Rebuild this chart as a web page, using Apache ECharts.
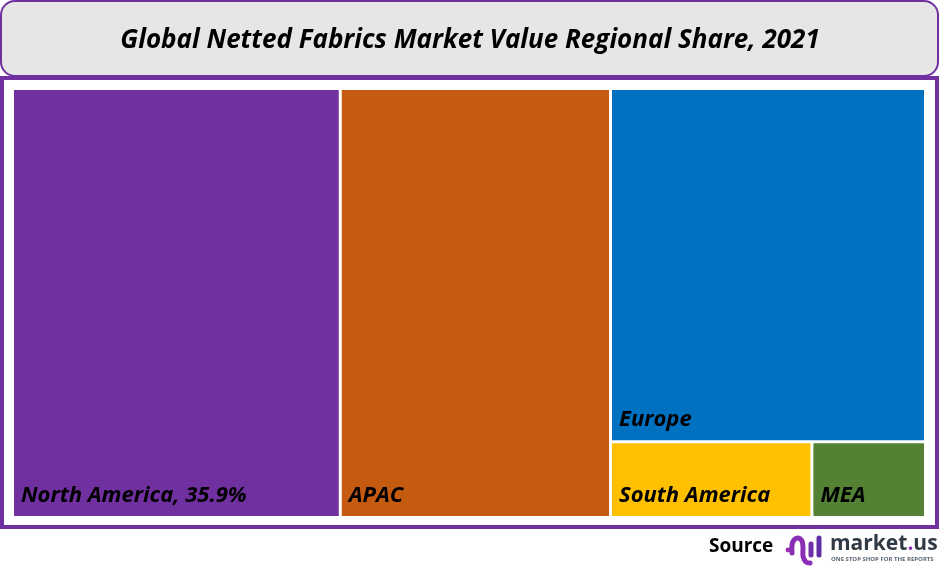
<!DOCTYPE html>
<html>
<head>
<meta charset="utf-8">
<style>
  html, body { margin: 0; padding: 0; background: #fff; }
  #charts_box { width: 940px; height: 566px; }
</style>
<script src="https://cdn.jsdelivr.net/npm/echarts@6/dist/echarts.min.js"></script>
</head>
<body>
<div id="charts_box"></div>
<script>
var regions = ['North America', 'APAC', 'Europe', 'South America', 'MEA'];
var shares = [35.9, 29.6, 28.4, 3.9, 2.2];
var colors = ['#7030a0', '#c55a11', '#0070c0', '#ffc000', '#548235'];
var titleText = 'Global Netted Fabrics Market Value Regional Share, 2021';

window.onload = function () {
    var myChart = echarts.init(document.getElementById('charts_box'));

    var purple = '#7030a0';
    var labelFont = '"Open Sans"';

    // only North America shows its value in the picture
    var nodes = regions.map(function (name, i) {
        return {
            name: name,
            value: shares[i],
            itemStyle: { color: colors[i] },
            label: { formatter: i === 0 ? '{b}, {c}%' : '{b}' }
        };
    });

    var option = {
        animation: false,
        graphic: [
            // title box
            { type: 'rect', z: 1, shape: { x: 1, y: 1, width: 937, height: 75, r: 14 },
              style: { fill: '#e6e6e6', stroke: purple, lineWidth: 2 } },
            { type: 'text', z: 2, x: 470, y: 41,
              style: { text: titleText, fill: '#000', align: 'center', verticalAlign: 'middle',
                       font: 'italic bold 26px ' + labelFont } },
            // frame round the treemap
            { type: 'rect', z: 1, shape: { x: 2, y: 78, width: 935, height: 449 },
              style: { fill: '#fff', stroke: purple, lineWidth: 4 } },
            // source and logo
            { type: 'text', z: 2, x: 709, y: 547,
              style: { text: 'Source', fill: '#000', verticalAlign: 'middle',
                       font: 'bold 19px ' + labelFont } },
            { type: 'circle', z: 2, shape: { cx: 788, cy: 550, r: 2.4 }, style: { fill: '#a02fb0' } },
            { type: 'polyline', z: 2,
              shape: { points: [[792, 553], [792, 545], [794, 540], [798, 538], [802, 541], [803, 547], [803, 556], [806, 562], [810, 563]], smooth: 0.3 },
              style: { fill: 'none', stroke: '#8a2fb5', lineWidth: 5, lineCap: 'round' } },
            { type: 'line', z: 2, shape: { x1: 811, y1: 544, x2: 811, y2: 555 }, style: { stroke: '#6f2fa8', lineWidth: 5, lineCap: 'round' } },
            { type: 'line', z: 2, shape: { x1: 819, y1: 538, x2: 819, y2: 555 }, style: { stroke: '#5f2ea5', lineWidth: 5, lineCap: 'round' } },
            { type: 'text', z: 2, x: 830, y: 544,
              style: {
                  text: 'market{dot|.}us', fill: '#2f3a44', verticalAlign: 'middle',
                  font: 'bold 21px ' + labelFont,
                  rich: { dot: { fill: '#8a2fb5', font: 'bold 21px ' + labelFont } }
              } },
            { type: 'text', z: 2, x: 831, y: 559,
              style: { text: 'ONE STOP SHOP FOR THE REPORTS', fill: '#5b6670', verticalAlign: 'middle',
                       font: 'bold 6px ' + labelFont } }
        ],
        series: [{
            type: 'treemap',
            z: 5,
            left: 14,
            top: 90,
            width: 910,
            height: 426,
            roam: false,
            nodeClick: false,
            breadcrumb: { show: false },
            squareRatio: 1,
            itemStyle: { gapWidth: 3, borderWidth: 0, borderColor: '#fff' },
            label: {
                show: true,
                position: 'insideBottomLeft',
                distance: 8,
                offset: [-6, 4],
                color: '#000',
                fontFamily: labelFont,
                fontStyle: 'italic',
                fontWeight: 'bold',
                fontSize: 22
            },
            data: nodes
        }]
    };
    myChart.setOption(option);
};
</script>
</body>
</html>
